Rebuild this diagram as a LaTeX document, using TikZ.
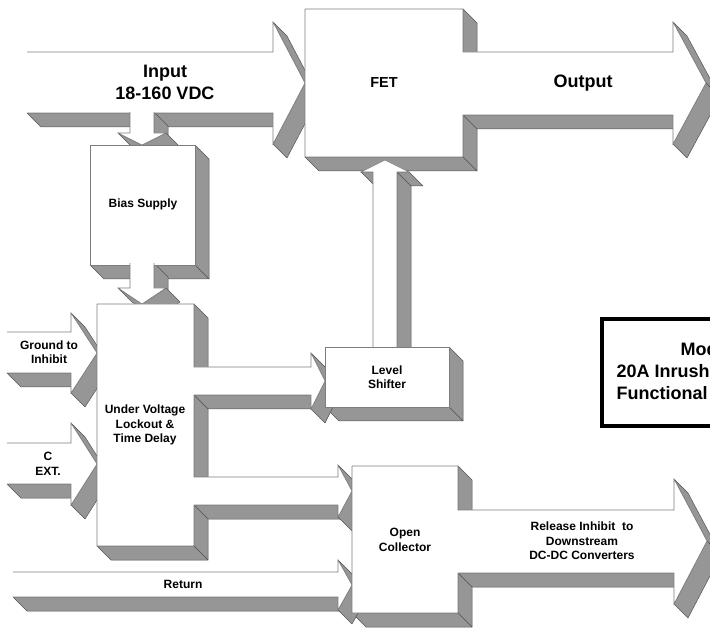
\documentclass[tikz,border=0pt]{standalone}
\usepackage{fontspec}
\setmainfont{Liberation Sans}
\definecolor{sidegray}{RGB}{150,150,150}
\definecolor{edgegray}{RGB}{85,85,85}
\definecolor{facegray}{RGB}{125,125,125}
\newcommand{\dz}{14}
% one raised block: #1,#2 first corner, #3 the other corners
% pass 0: straight sides, pass 1: slanted sides, pass 2: front
\newcommand{\slab}[3]{%
  \ifnum\pass<2
    \foreach \x/\y [remember=\x as \px (initially #1), remember=\y as \py (initially #2)] in {#3}{%
      \pgfmathtruncatemacro{\vis}{(\y-\py)-(\x-\px)>0}%
      \pgfmathtruncatemacro{\kind}{((\x==\px)||(\y==\py)) ? 0 : 1}%
      \ifnum\vis=1 \ifnum\kind=\pass
        \draw[slabside] (\px,\py) -- (\x,\y) -- (\x+\dz,\y+\dz) -- (\px+\dz,\py+\dz) -- cycle;
      \fi\fi
    }%
  \else
    \fill[white] (#1,#2) \foreach \x/\y in {#3}{ -- (\x,\y)} -- cycle;
    \draw[slabface] (#1,#2) \foreach \x/\y in {#3}{ -- (\x,\y)};
  \fi
}
\tikzset{
  slabside/.style={fill=sidegray, draw=edgegray, line width=0.5pt, line join=round},
  slabface/.style={draw=facegray, line width=0.6pt},
  lbl/.style={font=\bfseries\fontsize{12}{14.5}\selectfont, align=center},
  big/.style={font=\bfseries\fontsize{18}{22}\selectfont, align=center}
}

\begin{document}
\begin{tikzpicture}[x=1pt,y=-1pt]
    \clip (0,0) rectangle (710,628);
    \foreach \pass in {0,1,2}{
        \slab{27}{52}{273/52, 273/22, 305/83, 273/144, 273/113, 27/113}
        \slab{154}{112}{154/133, 166/133, 142/145, 118/133, 130/133, 130/112}
        \slab{305}{9}{463/9, 463/52, 673/52, 673/22, 706/83, 673/144, 673/115, 463/115, 463/157, 305/157, 305/9}
        \slab{373}{360}{373/172, 361/172, 385/160, 409/172, 397/172, 397/360}
        \slab{90}{145}{195/145, 195/265, 90/265, 90/145}
        \slab{154}{263}{154/288, 166/288, 142/304, 118/288, 130/288, 130/263}
        \slab{97}{304}{194/304, 194/367, 311/367, 311/353, 325/381, 311/409, 311/395, 194/395, 194/477, 338/477, 338/465, 352/491, 338/517, 338/505, 194/505, 194/546, 97/546, 97/304}
        \slab{7}{332}{71/332, 71/313, 97/353, 71/393, 71/373, 7/373}
        \slab{7}{443}{71/443, 71/423, 97/464, 71/505, 71/484, 7/484}
        \slab{325}{347}{449/347, 449/407, 325/407, 325/347}
        \slab{13}{572}{338/572, 338/560, 352/585, 338/610, 338/597, 13/597}
        \slab{352}{466}{458/466, 458/510, 674/510, 674/479, 707/541, 674/604, 674/573, 458/573, 458/613, 352/613, 352/466}
    }
    \draw[line width=3.5pt] (602,319) rectangle (740,426);
    \node[big] (input) at (165,82) {Input\\18-160 VDC};
    \node[font=\bfseries\fontsize{14.5}{17}\selectfont] (fet) at (384,83) {FET};
    \node[big] (output) at (583,83) {Output};
    \node[lbl] (bias) at (143,204) {Bias Supply};
    \node[lbl] (ground) at (49,352) {Ground to\\Inhibit};
    \node[lbl] (uvlo) at (145,425) {Under Voltage\\Lockout \&\\Time Delay};
    \node[lbl] (cext) at (48,464) {C\\EXT.};
    \node[lbl] (level) at (387,377) {Level\\Shifter};
    \node[lbl] (opencoll) at (405,540) {Open\\Collector};
    \node[lbl] (release) at (582,541) {Release Inhibit\ \ to\\Downstream\\DC-DC Converters};
    \node[lbl] (ret) at (183,584) {Return};
    \node[big, anchor=base west] (model) at (677,356) {Mod};
    \node[big, anchor=base west] (inrush) at (613,378) {20A Inrush};
    \node[big, anchor=base west] (functional) at (613,400) {Functional};
\end{tikzpicture}
\end{document}
